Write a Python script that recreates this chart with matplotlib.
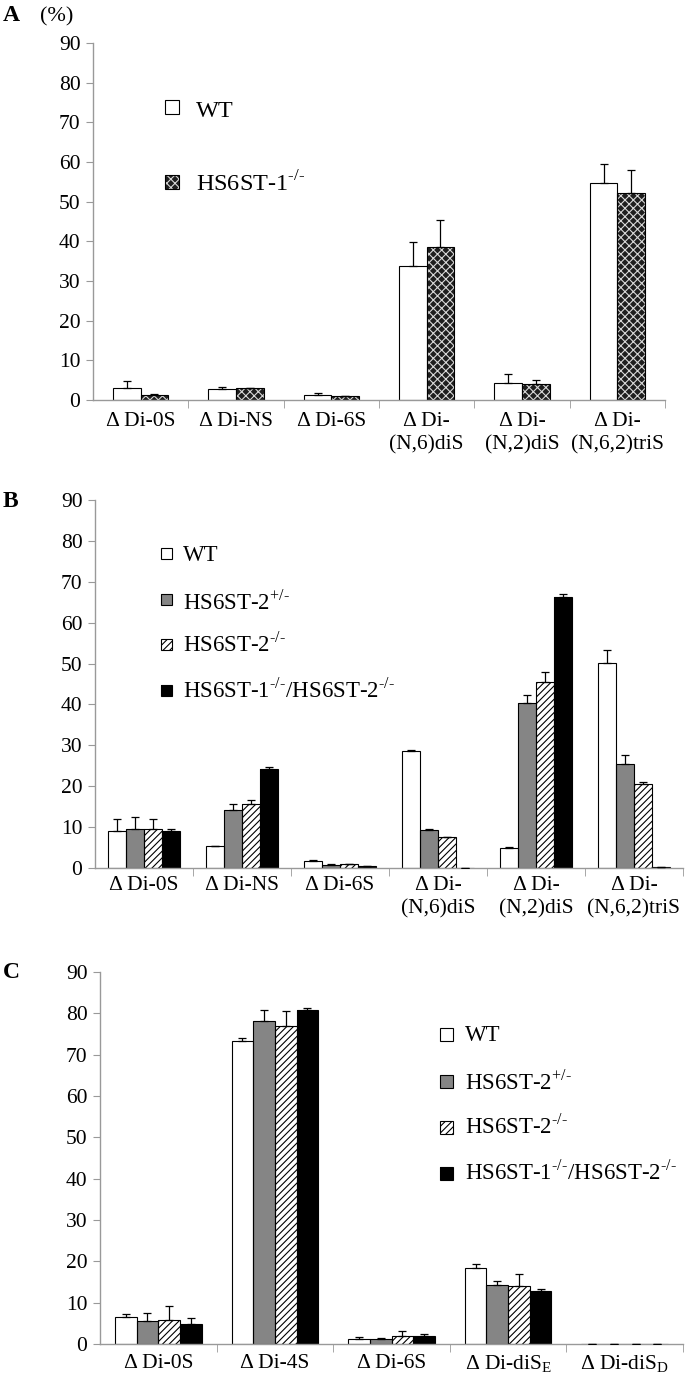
import numpy as np
import matplotlib
matplotlib.use("Agg")
import matplotlib.pyplot as plt
from matplotlib.patches import Rectangle

plt.rcParams["font.family"] = ["Liberation Serif", "DejaVu Serif"]
plt.rcParams["mathtext.fontset"] = "custom"
plt.rcParams["mathtext.rm"] = "Liberation Serif"
plt.rcParams["hatch.linewidth"] = 0.8

# panel A: HS, WT vs HS6ST-1-/-
cats_a = ["Δ Di-0S", "Δ Di-NS", "Δ Di-6S", "Δ Di-\n(N,6)diS", "Δ Di-\n(N,2)diS", "Δ Di-\n(N,6,2)triS"]
wt_a = [2.9, 2.7, 1.3, 33.8, 4.3, 54.7]
wt_a_err = [2.0, 0.7, 0.5, 6.0, 2.2, 4.7]
ko1_a = [1.3, 2.9, 1.0, 38.5, 4.0, 52.1]
ko1_a_err = [0.2, 0.1, 0.1, 6.9, 1.0, 5.8]

# panel B: HS, HS6ST-2 series
cats_b = cats_a
wt_b = [9.0, 5.3, 1.7, 28.6, 4.9, 50.2]
wt_b_err = [2.9, 0.2, 0.2, 0.2, 0.2, 3.1]
het2_b = [9.5, 14.2, 0.8, 9.4, 40.4, 25.4]
het2_b_err = [3.0, 1.4, 0.1, 0.1, 1.9, 2.3]
ko2_b = [9.6, 15.7, 0.9, 7.5, 45.6, 20.5]
ko2_b_err = [2.5, 1.0, 0.1, 0.2, 2.4, 0.6]
dko_b = [9.0, 24.1, 0.4, 0.1, 66.3, 0.2]
dko_b_err = [0.6, 0.6, 0.1, 0.0, 0.6, 0.0]

# panel C: CS/DS
cats_c = ["Δ Di-0S", "Δ Di-4S", "Δ Di-6S", "Δ Di-diS$_\\mathrm{E}$", "Δ Di-diS$_\\mathrm{D}$"]
wt_c = [6.5, 73.4, 1.3, 18.3, 0.05]
wt_c_err = [0.8, 0.6, 0.4, 1.0, 0.0]
het2_c = [5.6, 78.2, 1.2, 14.3, 0.05]
het2_c_err = [2.0, 2.7, 0.3, 1.0, 0.0]
ko2_c = [5.8, 77.0, 1.9, 14.0, 0.05]
ko2_c_err = [3.3, 3.6, 1.2, 2.9, 0.0]
dko_c = [4.8, 80.8, 1.9, 12.8, 0.05]
dko_c_err = [1.6, 0.4, 0.5, 0.5, 0.0]

SUP_KO = "$^{\\mathrm{\u2010/\u2010}}$"
SUP_HET = "$^{\\mathrm{+/\u2010}}$"
lbl_wt = "WT"
lbl_ko1 = "HS6ST-1" + SUP_KO
lbl_het2 = "HS6ST-2" + SUP_HET
lbl_ko2 = "HS6ST-2" + SUP_KO
lbl_dko = "HS6ST-1" + SUP_KO + "/HS6ST-2" + SUP_KO

STYLES = {
    "wt": dict(facecolor="white", hatch=None, hatchcolor="black"),
    "ko1": dict(facecolor="#1e1e1e", hatch="xxxx", hatchcolor="#d8d8d8"),
    "het2": dict(facecolor="#858585", hatch=None, hatchcolor="black"),
    "ko2": dict(facecolor="white", hatch="/////", hatchcolor="black"),
    "dko": dict(facecolor="black", hatch=None, hatchcolor="black"),
}

W, H = 693, 1380
fig = plt.figure(figsize=(W / 100, H / 100), dpi=100)


def px_axes(left, right, top, bottom):
    return fig.add_axes([left / W, 1 - bottom / H, (right - left) / W, (bottom - top) / H])


def draw_panel(ax, cats, series, width, pad):
    n = len(cats)
    x = np.arange(n)
    k = len(series)
    for i, (vals, errs, key) in enumerate(series):
        off = (i - (k - 1) / 2) * width
        st = STYLES[key]
        # fill + hatch (hatch takes the edge colour), then a black outline on top
        ax.bar(x + off, vals, width, facecolor=st["facecolor"], hatch=st["hatch"],
               edgecolor=st["hatchcolor"], linewidth=0, zorder=2)
        ax.bar(x + off, vals, width, fill=False, edgecolor="black", linewidth=0.8, zorder=2.5)
        ax.errorbar(x + off, vals, yerr=[np.zeros(n), errs], fmt="none",
                    ecolor="black", elinewidth=0.9, capsize=3, capthick=0.9, zorder=3)
    ax.set_xlim(-0.5, n - 0.5)
    ax.set_ylim(0, 90)
    ax.set_yticks(np.arange(0, 91, 10))
    ax.set_xticks(x)
    ax.set_xticklabels(cats, fontsize=15.5, linespacing=1.25)
    ax.set_xticks(np.arange(0.5, n, 1), minor=True)
    ax.tick_params(axis="x", which="major", length=0, pad=pad)
    ax.tick_params(axis="x", which="minor", length=6, color="#999999", direction="out")
    ax.tick_params(axis="y", length=5, color="#999999", labelsize=15.5, pad=4)
    for s in ["top", "right"]:
        ax.spines[s].set_visible(False)
    for s in ["left", "bottom"]:
        ax.spines[s].set_color("#999999")
        ax.spines[s].set_linewidth(1.0)


def draw_key(cx, cy, size, key, label, tx, ty, fs):
    st = STYLES[key]
    xy = ((cx - size / 2) / W, 1 - (cy + size / 2) / H)
    fig.patches.append(Rectangle(xy, size / W, size / H, transform=fig.transFigure,
                                 facecolor=st["facecolor"], hatch=st["hatch"],
                                 edgecolor=st["hatchcolor"], linewidth=0))
    fig.patches.append(Rectangle(xy, size / W, size / H, transform=fig.transFigure,
                                 fill=False, edgecolor="black", linewidth=0.8))
    fig.text(tx / W, 1 - ty / H, label, fontsize=fs, va="baseline", ha="left")


# A
ax_a = px_axes(93, 665, 43, 400)
draw_panel(ax_a, cats_a, [(wt_a, wt_a_err, "wt"), (ko1_a, ko1_a_err, "ko1")], 0.29, 9)
fig.text(3 / W, 1 - 21 / H, "A", fontsize=17, fontweight="bold", va="baseline")
fig.text(40 / W, 1 - 21 / H, "(%)", fontsize=16, va="baseline")
draw_key(172, 107, 14, "wt", lbl_wt, 196, 117, 17.5)
draw_key(172, 182, 14, "ko1", lbl_ko1, 196, 192, 17.5)

# B
ax_b = px_axes(95, 683, 500, 868)
draw_panel(ax_b, cats_b, [(wt_b, wt_b_err, "wt"), (het2_b, het2_b_err, "het2"),
                          (ko2_b, ko2_b_err, "ko2"), (dko_b, dko_b_err, "dko")], 0.185, 6)
fig.text(3 / W, 1 - 507 / H, "B", fontsize=17, fontweight="bold", va="baseline")
for (key, lab), cy, by in zip([("wt", lbl_wt), ("het2", lbl_het2), ("ko2", lbl_ko2), ("dko", lbl_dko)],
                              [553, 600, 644, 690], [561, 609, 651, 698]):
    draw_key(166, cy, 11, key, lab, 183, by, 16.5)

# C
ax_c = px_axes(100, 683, 972, 1344)
draw_panel(ax_c, cats_c, [(wt_c, wt_c_err, "wt"), (het2_c, het2_c_err, "het2"),
                          (ko2_c, ko2_c_err, "ko2"), (dko_c, dko_c_err, "dko")], 0.186, 7)
fig.text(3 / W, 1 - 978 / H, "C", fontsize=17, fontweight="bold", va="baseline")
for (key, lab), cy, by in zip([("wt", lbl_wt), ("het2", lbl_het2), ("ko2", lbl_ko2), ("dko", lbl_dko)],
                              [1034, 1081, 1127, 1173], [1041, 1089, 1134, 1180]):
    draw_key(446, cy, 13, key, lab, 465, by, 16.5)

fig.savefig("out.png", dpi=100)
